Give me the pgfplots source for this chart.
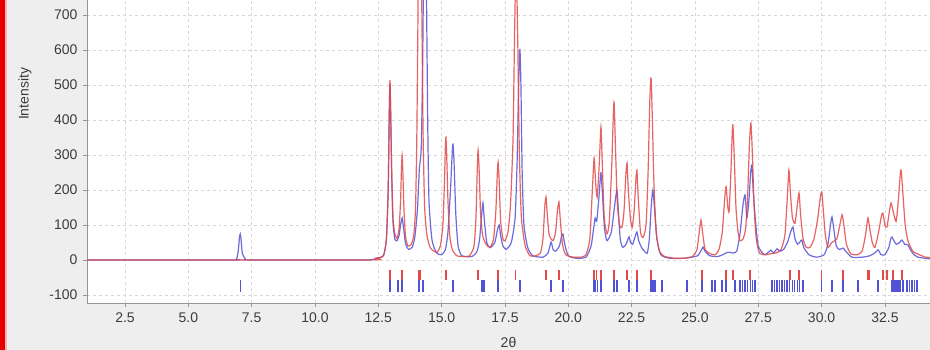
\documentclass[border=0pt]{standalone}
\usepackage{pgfplots}
\pgfplotsset{compat=1.18}
\usepackage{fontspec}
\setmainfont{Liberation Sans}
\definecolor{bggray}{RGB}{238,238,238}
\definecolor{myred}{RGB}{228,72,72}
\definecolor{myblue}{RGB}{82,82,214}
\definecolor{gridgray}{RGB}{215,215,215}
\definecolor{axgray}{RGB}{150,150,150}
\definecolor{txt}{RGB}{60,60,60}
\begin{document}
\begin{tikzpicture}
\useasboundingbox (0,0) rectangle (933bp,350bp);
\fill[bggray] (0,0) rectangle (933bp,350bp);
\fill[red!90!black] (0,0) rectangle (5bp,350bp);
\fill[red!30] (5bp,0) rectangle (6.5bp,350bp);
\fill[red!25] (930bp,0) rectangle (933bp,350bp);
\begin{axis}[
  at={(87bp,47bp)}, anchor=south west,
  scale only axis, width=843bp, height=303bp,
  xmin=1.0, xmax=34.28, ymin=-123, ymax=743,
  axis background/.style={fill=white},
  axis x line*=bottom, axis y line*=left,
  axis line style={axgray, line width=0.8bp, -},
  tick align=outside, major tick length=4bp,
  tick style={axgray, line width=0.8bp},
  xtick={2.5,5,7.5,10,12.5,15,17.5,20,22.5,25,27.5,30,32.5},
  xticklabels={2.5,5.0,7.5,10.0,12.5,15.0,17.5,20.0,22.5,25.0,27.5,30.0,32.5},
  ytick={-100,0,100,200,300,400,500,600,700},
  grid=major,
  major grid style={gridgray, dashed, line width=0.6bp},
  /pgf/number format/assume math mode=true,
  ticklabel style={font=\fontsize{14bp}{16bp}\selectfont, text=txt},
  xticklabel style={yshift=-2bp},
  yticklabel style={xshift=-2bp},
  xlabel={2θ}, ylabel={Intensity},
  label style={font=\fontsize{14bp}{16bp}\selectfont, text=txt},
  xlabel style={at={(axis description cs:0.5,-0.129)}, anchor=center},
  ylabel style={at={(axis description cs:-0.0735,0.69)}, anchor=center},
]
% blue pattern
\addplot[myblue, line width=1.2bp, opacity=0.85, smooth, tension=0.35] coordinates {
(1.0,0) (6.7,0) (6.9,3) (6.97,25) (7.02,65) (7.05,74) (7.08,60) (7.13,20) (7.25,3) (7.5,0)
(12.0,0) (12.4,5) (12.7,12) (12.82,60) (12.89,200) (12.93,400) (12.96,505) (12.99,410) (13.03,240)
(13.08,110) (13.15,60) (13.24,55) (13.32,70) (13.38,100) (13.44,120) (13.5,90) (13.58,45) (13.7,30)
(13.85,38) (13.95,70) (14.05,150) (14.12,260) (14.16,286) (14.2,330) (14.25,550) (14.29,850) (14.34,1100)
(14.39,850) (14.45,400) (14.5,170) (14.62,57) (14.8,20) (15.0,15) (15.15,30) (15.25,80) (15.35,200)
(15.42,310) (15.45,331) (15.49,280) (15.56,130) (15.65,40) (15.8,12) (16.2,10) (16.4,25) (16.5,60)
(16.58,130) (16.63,163) (16.68,120) (16.78,50) (16.91,35) (17.1,50) (17.2,85) (17.27,100) (17.33,70)
(17.42,40) (17.55,30) (17.75,50) (17.9,120) (17.98,280) (18.04,500) (18.09,603) (18.13,500) (18.18,250)
(18.25,100) (18.4,35) (18.6,12) (19.0,8) (19.2,20) (19.32,51) (19.4,30) (19.5,25) (19.65,40)
(19.74,70) (19.79,74) (19.86,45) (20.0,12) (20.3,5) (20.7,8) (20.9,40) (21.0,90) (21.06,120)
(21.12,110) (21.2,170) (21.27,240) (21.29,249) (21.34,200) (21.43,90) (21.53,55) (21.7,80) (21.82,150)
(21.92,200) (21.97,150) (22.05,60) (22.15,36) (22.28,45) (22.36,60) (22.4,66) (22.46,50) (22.54,45)
(22.63,65) (22.71,80) (22.78,55) (22.9,35) (23.11,19) (23.2,60) (23.28,160) (23.34,200) (23.4,150)
(23.5,60) (23.65,15) (24.0,5) (24.6,5) (25.1,12) (25.25,28) (25.32,37) (25.4,25) (25.59,12)
(25.9,10) (26.1,15) (26.3,22) (26.5,20) (26.65,25) (26.78,75) (26.9,160) (26.98,186) (27.05,120)
(27.13,170) (27.2,250) (27.25,271) (27.3,200) (27.38,120) (27.5,40) (27.75,15) (28.0,28) (28.1,20)
(28.25,32) (28.35,25) (28.5,30) (28.65,50) (28.78,80) (28.87,94) (28.95,60) (29.05,45) (29.15,52)
(29.22,57) (29.3,35) (29.5,15) (29.8,8) (30.1,15) (30.25,45) (30.35,100) (30.41,123) (30.48,90)
(30.58,40) (30.7,30) (30.85,34) (30.95,25) (31.2,8) (31.6,8) (31.9,12) (32.1,20) (32.23,29)
(32.35,15) (32.5,15) (32.65,35) (32.73,60) (32.78,66) (32.85,55) (32.95,45) (33.08,50) (33.17,57)
(33.28,45) (33.41,43) (33.5,30) (33.61,18) (33.8,8) (34.28,3)
};
% red pattern
\addplot[myred, line width=1.2bp, opacity=0.85, smooth, tension=0.35] coordinates {
(1.0,0) (12.0,0) (12.4,5) (12.7,12) (12.82,60) (12.89,200) (12.93,410) (12.96,514) (12.99,420)
(13.03,250) (13.08,120) (13.15,75) (13.24,62) (13.32,90) (13.38,170) (13.41,250) (13.44,300) (13.47,250)
(13.51,150) (13.57,70) (13.67,40) (13.8,45) (13.9,70) (13.97,150) (14.02,350) (14.06,650) (14.09,900)
(14.13,1100) (14.18,1000) (14.22,700) (14.27,350) (14.33,150) (14.42,70) (14.55,35) (14.7,25) (14.82,22)
(14.95,40) (15.05,100) (15.11,220) (15.15,330) (15.17,351) (15.2,300) (15.25,170) (15.32,70) (15.42,30)
(15.6,12) (15.9,10) (16.1,12) (16.28,40) (16.36,130) (16.41,270) (16.44,314) (16.48,260) (16.54,130)
(16.62,70) (16.75,45) (16.91,36) (17.05,60) (17.14,140) (17.2,250) (17.23,280) (17.27,230) (17.33,110)
(17.42,60) (17.5,55) (17.62,80) (17.72,160) (17.82,350) (17.88,650) (17.94,850) (18.0,650) (18.07,300)
(18.15,120) (18.3,40) (18.49,12) (18.7,12) (18.9,20) (19.0,60) (19.07,150) (19.12,180) (19.17,130)
(19.25,70) (19.4,55) (19.5,80) (19.57,140) (19.63,166) (19.68,120) (19.77,45) (19.9,15) (20.2,8)
(20.5,8) (20.7,15) (20.85,60) (20.95,200) (21.02,291) (21.08,220) (21.14,180) (21.22,270) (21.29,380)
(21.34,280) (21.42,120) (21.53,75) (21.62,110) (21.72,280) (21.78,420) (21.81,449) (21.86,330) (21.93,170)
(22.02,100) (22.12,93) (22.2,140) (22.27,240) (22.32,277) (22.37,200) (22.45,120) (22.52,93) (22.6,140)
(22.67,230) (22.71,257) (22.76,180) (22.85,80) (22.95,64) (23.07,100) (23.15,250) (23.22,460) (23.27,520)
(23.32,400) (23.38,220) (23.47,80) (23.6,25) (23.8,10) (24.2,5) (24.6,5) (24.9,10) (25.08,30)
(25.17,80) (25.24,114) (25.3,80) (25.4,30) (25.59,18) (25.8,15) (25.95,30) (26.08,80) (26.18,180)
(26.23,209) (26.3,150) (26.35,140) (26.42,250) (26.47,360) (26.5,386) (26.55,300) (26.62,150) (26.7,80)
(26.78,55) (26.9,60) (27.0,90) (27.08,180) (27.15,330) (27.21,391) (27.27,300) (27.33,160) (27.42,60)
(27.55,20) (27.8,15) (28.0,18) (28.2,20) (28.4,30) (28.55,70) (28.64,170) (28.71,257) (28.77,190)
(28.85,120) (28.95,105) (29.03,150) (29.11,191) (29.17,130) (29.27,60) (29.4,36) (29.54,36) (29.7,60)
(29.85,120) (29.95,180) (30.01,194) (30.07,140) (30.15,70) (30.25,36) (30.4,50) (30.6,60) (30.72,100)
(30.81,129) (30.88,100) (30.98,45) (31.15,18) (31.4,15) (31.6,25) (31.73,70) (31.83,120) (31.9,90)
(32.0,50) (32.11,36) (32.25,80) (32.36,125) (32.42,134) (32.5,100) (32.58,94) (32.68,140) (32.74,163)
(32.82,140) (32.94,110) (33.03,170) (33.1,240) (33.14,257) (33.2,200) (33.3,100) (33.41,55) (33.6,25)
(33.89,14) (34.1,8) (34.28,7)
};
% red reflection markers
\addplot[only marks, mark=|, mark size=5bp, mark options={myred, line width=1.3bp}] coordinates {
(12.96,-43) (13.44,-43) (14.11,-43) (14.15,-43) (15.17,-43) (16.44,-43) (17.23,-43) (17.92,-43)
(19.12,-43) (19.63,-43) (21.02,-43) (21.1,-43) (21.29,-43) (21.81,-43) (22.32,-43) (22.71,-43)
(23.27,-43) (25.28,-43) (26.23,-43) (26.5,-43) (27.17,-43) (28.75,-43) (29.11,-43) (30.01,-43)
(30.84,-43) (31.83,-43) (31.9,-43) (32.42,-43) (32.58,-43) (32.82,-43) (33.17,-43)
};
% blue reflection markers
\addplot[only marks, mark=|, mark size=6bp, mark options={myblue, line width=1.3bp}] coordinates {
(7.05,-74) (12.96,-74) (13.28,-74) (13.44,-74) (14.11,-74) (14.27,-74) (15.45,-74) (16.57,-74)
(16.63,-74) (16.68,-74) (17.23,-74) (18.09,-74) (19.32,-74) (19.79,-74) (21.02,-74) (21.06,-74)
(21.15,-74) (21.29,-74) (21.81,-74) (21.92,-74) (22.4,-74) (22.71,-74) (23.27,-74) (23.34,-74)
(23.42,-74) (23.7,-74) (24.69,-74) (25.28,-74) (25.67,-74) (25.79,-74) (26.07,-74) (26.23,-74)
(26.58,-74) (26.78,-74) (26.88,-74) (26.98,-74) (27.08,-74) (27.18,-74) (27.28,-74) (27.37,-74)
(28.04,-74) (28.14,-74) (28.24,-74) (28.34,-74) (28.44,-74) (28.54,-74) (28.64,-74) (28.74,-74)
(28.84,-74) (28.94,-74) (29.04,-74) (29.14,-74) (29.27,-74) (30.01,-74) (30.41,-74) (30.84,-74)
(31.44,-74) (32.23,-74) (32.78,-74) (32.86,-74) (32.94,-74) (33.02,-74) (33.1,-74) (33.21,-74)
(33.37,-74) (33.47,-74) (33.57,-74) (33.67,-74) (33.77,-74)
};
\end{axis}
\end{tikzpicture}
\end{document}
